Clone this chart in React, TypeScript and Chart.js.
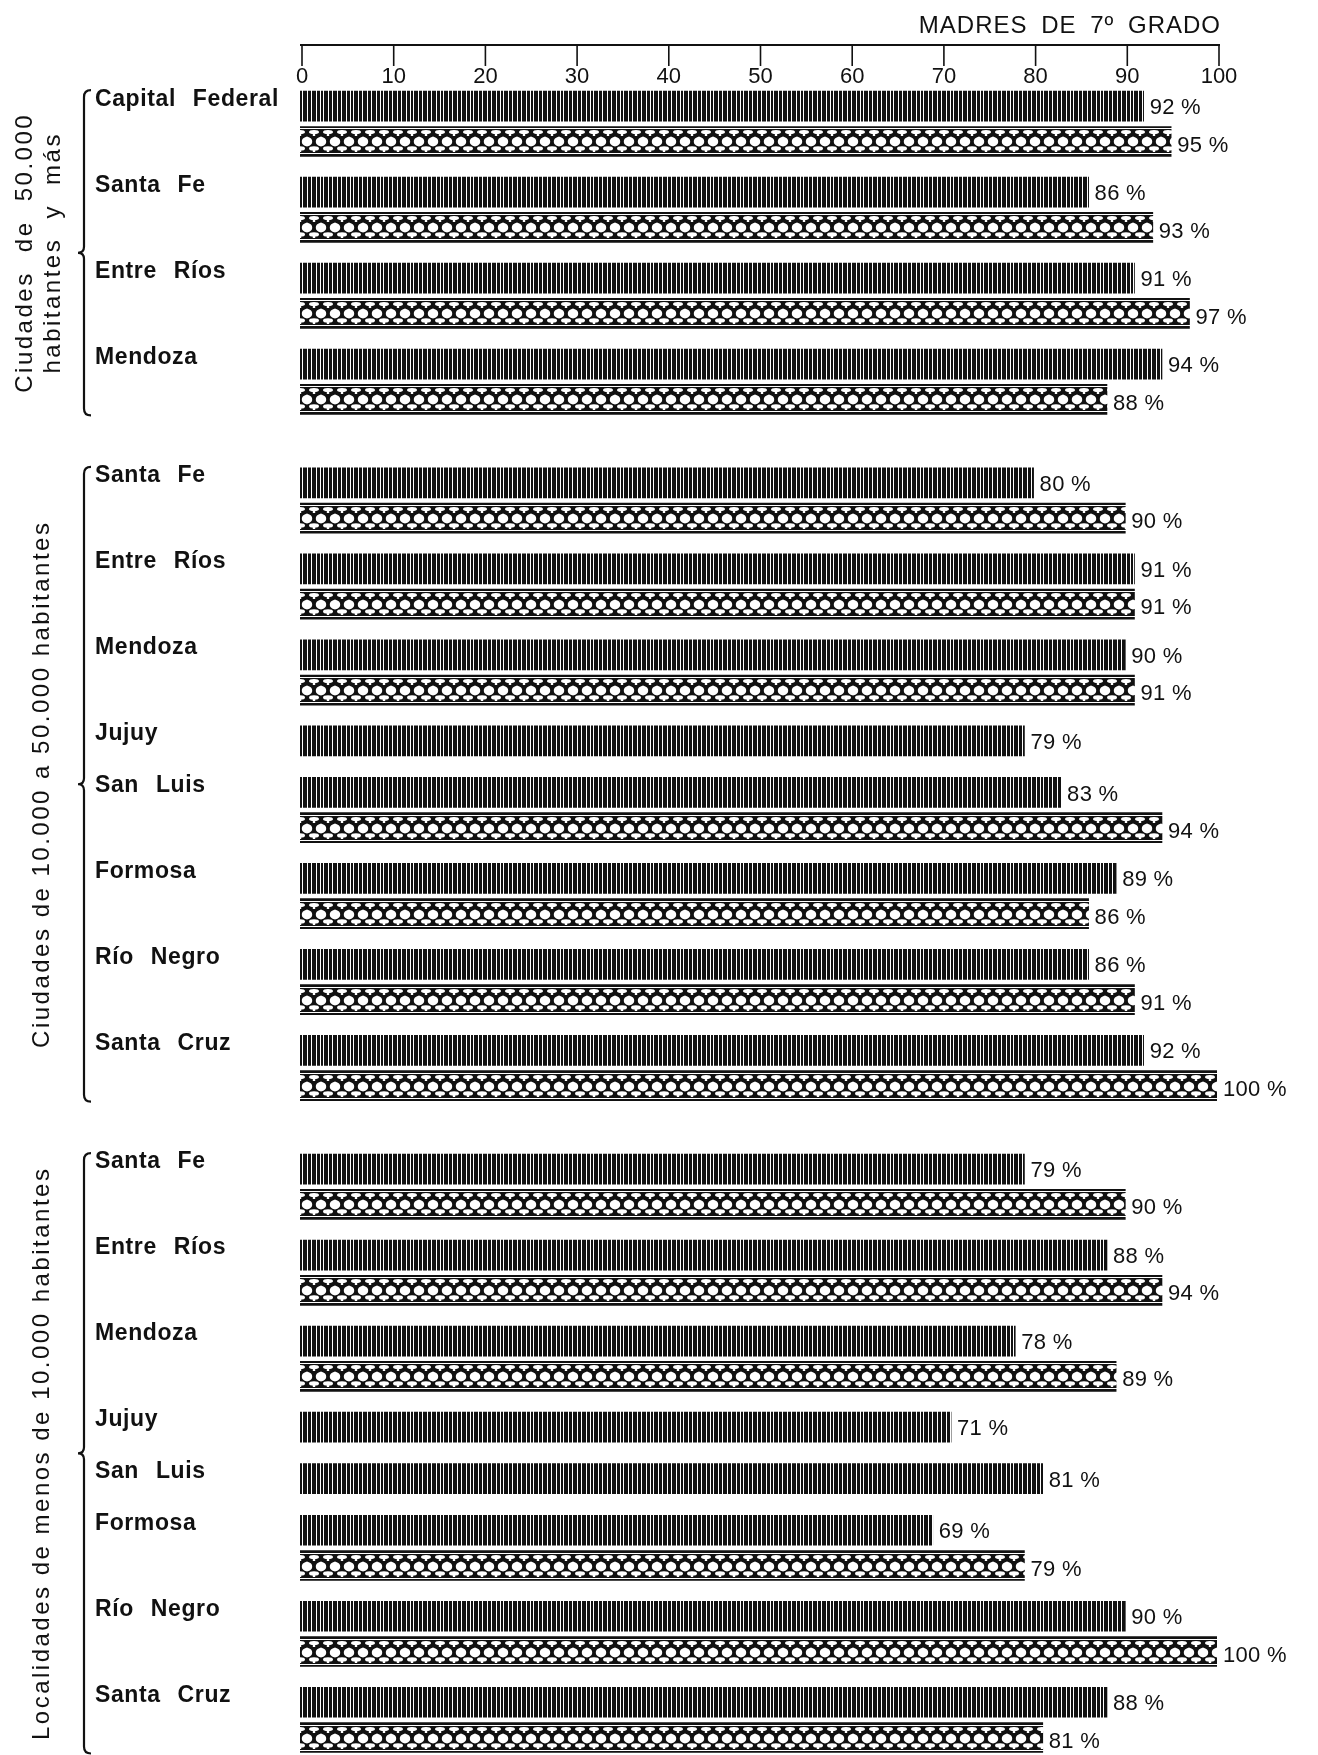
import React, { useEffect, useRef } from "react";
import { Chart, registerables } from "chart.js";

Chart.register(...registerables);

// ---------- data ----------
const axisTitle = "MADRES DE 7º GRADO";
const xTickValues = [0, 10, 20, 30, 40, 50, 60, 70, 80, 90, 100];

const groupTitle1 = ["Ciudades de 50.000", "habitantes y más"];
const places1 = ["Capital Federal", "Santa Fe", "Entre Ríos", "Mendoza"];
const stripes1 = [92, 86, 91, 94];
const hatches1 = [95, 93, 97, 88];

const groupTitle2 = ["Ciudades de 10.000 a 50.000 habitantes"];
const places2 = ["Santa Fe", "Entre Ríos", "Mendoza", "Jujuy", "San Luis", "Formosa", "Río Negro", "Santa Cruz"];
const stripes2 = [80, 91, 90, 79, 83, 89, 86, 92];
const hatches2 = [90, 91, 91, null, 94, 86, 91, 100];

const groupTitle3 = ["Localidades de menos de 10.000 habitantes"];
const places3 = ["Santa Fe", "Entre Ríos", "Mendoza", "Jujuy", "San Luis", "Formosa", "Río Negro", "Santa Cruz"];
const stripes3 = [79, 88, 78, 71, 81, 69, 90, 88];
const hatches3 = [90, 94, 89, null, null, 79, 100, 81];

// ---------- layout (index-axis units) ----------
const PAIR_STEP = 1;
const SINGLE_STEP = 0.6;
const GROUP_GAP = 0.38;
const HATCH_OFFSET = 0.41;

type Row = { name: string; stripe: number; hatch: number | null; pos: number; group: number };

const groups = [
  { title: groupTitle1, places: places1, stripes: stripes1, hatches: hatches1 },
  { title: groupTitle2, places: places2, stripes: stripes2, hatches: hatches2 },
  { title: groupTitle3, places: places3, stripes: stripes3, hatches: hatches3 },
];

function buildRows(): Row[] {
  const rows: Row[] = [];
  let pos = 0;
  groups.forEach((g, gi) => {
    g.places.forEach((name, i) => {
      const h = g.hatches[i];
      rows.push({ name, stripe: g.stripes[i], hatch: h, pos, group: gi });
      pos += h == null ? SINGLE_STEP : PAIR_STEP;
    });
    pos += GROUP_GAP;
  });
  return rows;
}

const INK = "#111";
const SANS = "'Liberation Sans', Arial, Helvetica, sans-serif";

function makeStripeTile(): HTMLCanvasElement {
  const cols = "110111101110111101110110111101";
  const c = document.createElement("canvas");
  c.width = cols.length;
  c.height = 4;
  const g = c.getContext("2d")!;
  g.fillStyle = "#fff";
  g.fillRect(0, 0, c.width, c.height);
  g.fillStyle = INK;
  for (let i = 0; i < cols.length; i++) if (cols[i] === "1") g.fillRect(i, 0, 1, c.height);
  return c;
}

function makeHatchTile(): HTMLCanvasElement {
  const w = 14, h = 30;
  const c = document.createElement("canvas");
  c.width = w;
  c.height = h;
  const g = c.getContext("2d")!;
  g.fillStyle = INK;
  g.fillRect(0, 0, w, h);
  g.fillStyle = "#fff";
  // thin separation lines under top border / above bottom border
  g.fillRect(0, 2, w, 1);
  g.fillRect(0, 27, w, 1);
  // middle row: white diamonds/ovals
  g.beginPath();
  g.moveTo(7, 10.5);
  g.quadraticCurveTo(12.5, 12, 12.2, 15.5);
  g.quadraticCurveTo(12.5, 19, 7, 20.5);
  g.quadraticCurveTo(1.5, 19, 1.8, 15.5);
  g.quadraticCurveTo(1.5, 12, 7, 10.5);
  g.fill();
  // top and bottom rows: mushroom shapes (cap above, stem below), offset half a period
  for (const cx of [0, 14]) {
    g.beginPath();
    g.ellipse(cx, 6, 5, 2, 0, 0, Math.PI * 2);
    g.fill();
    g.fillRect(cx - 1.2, 6, 2.4, 4);
    g.beginPath();
    g.ellipse(cx, 22.5, 5, 2.2, 0, 0, Math.PI * 2);
    g.fill();
    g.fillRect(cx - 1.2, 23, 2.4, 3);
  }
  return c;
}

export default function App() {
  const ref = useRef<HTMLCanvasElement | null>(null);

  useEffect(() => {
    const canvas = ref.current;
    if (!canvas) return;
    const rows = buildRows();
    const ctx2d = canvas.getContext("2d")!;
    const stripePattern = ctx2d.createPattern(makeStripeTile(), "repeat")!;
    const hatchTile = makeHatchTile();
    const BAR = 30;

    const stripeData = rows.map((r) => ({ x: r.stripe, y: r.pos }));
    const hatchData = rows.filter((r) => r.hatch != null).map((r) => ({ x: r.hatch as number, y: r.pos + HATCH_OFFSET }));

    const labelsPlugin = {
      id: "valueLabels",
      afterDatasetsDraw(chart: any) {
        const ctx = chart.ctx;
        ctx.save();
        ctx.letterSpacing = "0.3px";
        ctx.wordSpacing = "0px";
        ctx.font = `22px ${SANS}`;
        ctx.fillStyle = INK;
        ctx.textAlign = "left";
        ctx.textBaseline = "middle";
        chart.data.datasets.forEach((ds: any, di: number) => {
          const meta = chart.getDatasetMeta(di);
          meta.data.forEach((el: any, i: number) => {
            const raw = ds.data[i];
            ctx.fillText(`${raw.x} %`, el.x + 6, el.y + (di === 0 ? 2 : 4));
          });
        });
        ctx.restore();
      },
    };

    const axisPlugin = {
      id: "topAxis",
      beforeDraw(chart: any) {
        chart.ctx.letterSpacing = "0.6px";
        chart.ctx.wordSpacing = "10px";
      },
      afterDraw(chart: any) {
        const ctx = chart.ctx;
        const xs = chart.scales.x;
        const area = chart.chartArea;
        const lineY = area.top - 44;
        ctx.save();
        ctx.letterSpacing = "0px";
        ctx.wordSpacing = "0px";
        ctx.strokeStyle = INK;
        ctx.lineWidth = 2;
        ctx.beginPath();
        ctx.moveTo(xs.getPixelForValue(0), lineY);
        ctx.lineTo(xs.getPixelForValue(100) + 3, lineY);
        ctx.stroke();
        ctx.lineWidth = 1.6;
        ctx.font = `22px ${SANS}`;
        ctx.fillStyle = INK;
        ctx.textAlign = "center";
        ctx.textBaseline = "middle";
        xs.ticks.forEach((t: any) => {
          const px = xs.getPixelForValue(t.value) + 2;
          ctx.beginPath();
          ctx.moveTo(px, lineY);
          ctx.lineTo(px, lineY + 21);
          ctx.stroke();
          ctx.fillText(String(t.value), px, lineY + 32);
        });
        // title
        ctx.letterSpacing = "1px";
        ctx.wordSpacing = "6px";
        ctx.font = `24px ${SANS}`;
        ctx.textAlign = "right";
        ctx.textBaseline = "middle";
        ctx.fillText(axisTitle, xs.getPixelForValue(100) + 4, lineY - 19);
        ctx.restore();

        // braces and group titles
        const ys = chart.scales.y;
        ctx.save();
        ctx.strokeStyle = INK;
        ctx.fillStyle = INK;
        ctx.lineWidth = 2.2;
        groups.forEach((g, gi) => {
          const gr = rows.filter((r) => r.group === gi);
          const first = gr[0];
          const last = gr[gr.length - 1];
          const top = ys.getPixelForValue(first.pos) - BAR / 2 - 1;
          const bottom = ys.getPixelForValue(last.pos + (last.hatch != null ? HATCH_OFFSET : 0)) + BAR / 2 + 1;
          const mid = (top + bottom) / 2;
          const x = 84;
          ctx.beginPath();
          ctx.moveTo(x + 7, top);
          ctx.quadraticCurveTo(x, top, x, top + 7);
          ctx.lineTo(x, mid - 6);
          ctx.quadraticCurveTo(x, mid, x - 6, mid);
          ctx.quadraticCurveTo(x, mid, x, mid + 6);
          ctx.lineTo(x, bottom - 7);
          ctx.quadraticCurveTo(x, bottom, x + 7, bottom);
          ctx.stroke();

          const lines = g.title;
          const two = lines.length === 2;
          ctx.font = `24px ${SANS}`;
          ctx.letterSpacing = "2.5px";
          ctx.wordSpacing = two ? "10px" : "0px";
          ctx.textAlign = "center";
          ctx.textBaseline = "middle";
          const xs2 = two ? [25, 53] : [42];
          lines.forEach((line, li) => {
            ctx.save();
            ctx.translate(xs2[li], mid);
            ctx.rotate(-Math.PI / 2);
            ctx.fillText(line, 0, 0);
            ctx.restore();
          });
        });
        ctx.restore();
      },
    };

    const chart = new Chart(canvas, {
      type: "bar",
      data: {
        datasets: [
          {
            label: "stripe",
            data: stripeData as any,
            backgroundColor: stripePattern as any,
            borderWidth: 0,
            barThickness: BAR,
            grouped: false,
          } as any,
          {
            label: "hatch",
            data: hatchData as any,
            backgroundColor: (c: any) => {
              const ys = c.chart.scales?.y;
              const xs = c.chart.scales?.x;
              if (!ys || !xs || !c.raw) return INK;
              const center = ys.getPixelForValue(c.raw.y);
              const pat = c.chart.ctx.createPattern(hatchTile, "repeat");
              pat.setTransform(new DOMMatrix().translate(xs.getPixelForValue(0), Math.round(center - BAR / 2)));
              return pat;
            },
            borderWidth: 0,
            barThickness: BAR,
            grouped: false,
          } as any,
        ],
      },
      options: {
        indexAxis: "y",
        responsive: false,
        animation: false,
        devicePixelRatio: 1,
        layout: { padding: { left: 95, right: 101, top: 89, bottom: 2 } },
        plugins: { legend: { display: false }, tooltip: { enabled: false } },
        scales: {
          x: {
            type: "linear",
            position: "top",
            min: 0,
            max: 100,
            display: false,
            afterBuildTicks: (scale: any) => {
              scale.ticks = xTickValues.map((v) => ({ value: v }));
            },
          },
          y: {
            type: "linear",
            reverse: true,
            offset: false,
            min: -0.2,
            max: 19.15,
            grid: { display: false, offset: false },
            border: { display: false },
            afterBuildTicks: (scale: any) => {
              scale.ticks = rows.map((r) => ({ value: r.pos }));
            },
            afterFit: (scale: any) => {
              scale.width = 205;
              scale.paddingTop = 0;
              scale.paddingBottom = 0;
            },
            ticks: {
              autoSkip: false,
              crossAlign: "far",
              padding: 0,
              labelOffset: -7,
              color: INK,
              font: { family: SANS, size: 23, weight: "bold" },
              callback: (_v: any, i: number) => rows[i]?.name ?? "",
            },
          },
        },
      } as any,
      plugins: [labelsPlugin, axisPlugin],
    });

    return () => chart.destroy();
  }, []);

  return (
    <div style={{ position: "absolute", left: 0, top: 0, width: 1318, height: 1755, background: "#fff" }}>
      <canvas ref={ref} width={1318} height={1755} style={{ display: "block", width: 1318, height: 1755 }} />
    </div>
  );
}
